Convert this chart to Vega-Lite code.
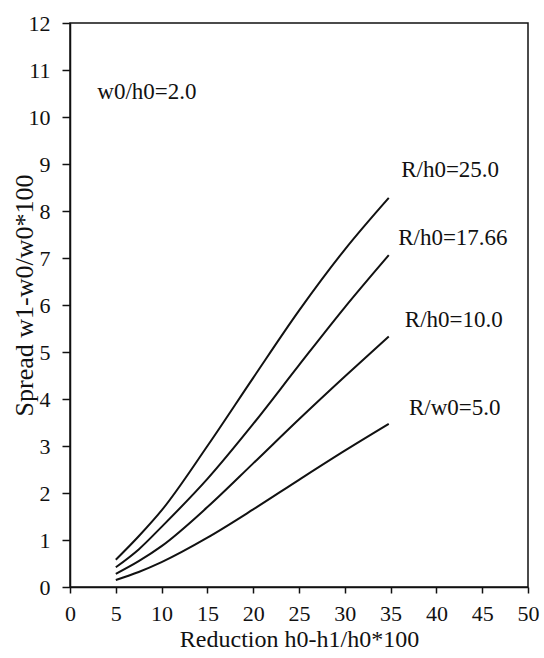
{
  "$schema": "https://vega.github.io/schema/vega-lite/v6.json",
  "autosize": "none",
  "width": 458,
  "height": 564,
  "padding": {"left": 70, "top": 23, "right": 16, "bottom": 71},
  "background": "white",
  "config": {
    "font": "Liberation Serif",
    "view": {"stroke": "#111", "strokeWidth": 1.5},
    "axis": {
      "grid": false,
      "domainColor": "#111",
      "domainWidth": 1.5,
      "tickColor": "#111",
      "tickWidth": 1.5,
      "labelColor": "#111",
      "titleColor": "#111",
      "labelFont": "Liberation Serif",
      "titleFont": "Liberation Serif",
      "labelFontSize": 22,
      "titleFontSize": 24,
      "titleFontWeight": "normal"
    }
  },
  "datasets": {
    "curves": [
      {"series": "R/h0=25.0", "reduction": 5, "spread": 0.58},
      {"series": "R/h0=25.0", "reduction": 7.5, "spread": 1.08},
      {"series": "R/h0=25.0", "reduction": 10, "spread": 1.63},
      {"series": "R/h0=25.0", "reduction": 15, "spread": 3.0},
      {"series": "R/h0=25.0", "reduction": 20, "spread": 4.45},
      {"series": "R/h0=25.0", "reduction": 25, "spread": 5.88},
      {"series": "R/h0=25.0", "reduction": 30, "spread": 7.18},
      {"series": "R/h0=25.0", "reduction": 34.8, "spread": 8.28},
      {"series": "R/h0=17.66", "reduction": 5, "spread": 0.42},
      {"series": "R/h0=17.66", "reduction": 7.5, "spread": 0.8},
      {"series": "R/h0=17.66", "reduction": 10, "spread": 1.28},
      {"series": "R/h0=17.66", "reduction": 15, "spread": 2.3},
      {"series": "R/h0=17.66", "reduction": 20, "spread": 3.47},
      {"series": "R/h0=17.66", "reduction": 25, "spread": 4.72},
      {"series": "R/h0=17.66", "reduction": 30, "spread": 5.95},
      {"series": "R/h0=17.66", "reduction": 34.8, "spread": 7.06},
      {"series": "R/h0=10.0", "reduction": 5, "spread": 0.28},
      {"series": "R/h0=10.0", "reduction": 7.5, "spread": 0.55},
      {"series": "R/h0=10.0", "reduction": 10, "spread": 0.87},
      {"series": "R/h0=10.0", "reduction": 15, "spread": 1.7},
      {"series": "R/h0=10.0", "reduction": 20, "spread": 2.63},
      {"series": "R/h0=10.0", "reduction": 25, "spread": 3.57},
      {"series": "R/h0=10.0", "reduction": 30, "spread": 4.48},
      {"series": "R/h0=10.0", "reduction": 34.8, "spread": 5.33},
      {"series": "R/w0=5.0", "reduction": 5, "spread": 0.15},
      {"series": "R/w0=5.0", "reduction": 7.5, "spread": 0.32},
      {"series": "R/w0=5.0", "reduction": 10, "spread": 0.53},
      {"series": "R/w0=5.0", "reduction": 15, "spread": 1.05},
      {"series": "R/w0=5.0", "reduction": 20, "spread": 1.65},
      {"series": "R/w0=5.0", "reduction": 25, "spread": 2.28},
      {"series": "R/w0=5.0", "reduction": 30, "spread": 2.9},
      {"series": "R/w0=5.0", "reduction": 34.8, "spread": 3.47}
    ],
    "labels": [
      {"text": "R/h0=25.0", "x": 41.5, "y": 8.87},
      {"text": "R/h0=17.66", "x": 41.8, "y": 7.43},
      {"text": "R/h0=10.0", "x": 41.9, "y": 5.68},
      {"text": "R/w0=5.0", "x": 42.0, "y": 3.81},
      {"text": "w0/h0=2.0", "x": 8.4, "y": 10.53}
    ]
  },
  "layer": [
    {
      "data": {"name": "curves"},
      "mark": {"type": "line", "interpolate": "monotone", "color": "#111", "strokeWidth": 2},
      "encoding": {
        "x": {
          "field": "reduction", "type": "quantitative",
          "scale": {"domain": [0, 50], "nice": false, "zero": false},
          "axis": {
            "title": "Reduction h0-h1/h0*100",
            "values": [0, 5, 10, 15, 20, 25, 30, 35, 40, 45, 50],
            "labelFont": "Liberation Serif",
            "labelFontSize": 22,
            "titleFont": "Liberation Serif",
            "titleFontSize": 24,
            "tickSize": 6,
            "labelPadding": 10,
            "titlePadding": 3,
            "labelFlush": false
          }
        },
        "y": {
          "field": "spread", "type": "quantitative",
          "scale": {"domain": [0, 12], "nice": false},
          "axis": {
            "title": "Spread w1-w0/w0*100",
            "values": [0, 1, 2, 3, 4, 5, 6, 7, 8, 9, 10, 11, 12],
            "labelFont": "Liberation Serif",
            "labelFontSize": 22,
            "titleFont": "Liberation Serif",
            "tickSize": 8,
            "labelPadding": 12,
            "labelFlush": false,
            "titleFontSize": 26,
            "titleX": -46,
            "titleY": 272,
            "titleAngle": -90,
            "titleBaseline": "middle",
            "titleAlign": "center"
          }
        },
        "detail": {"field": "series", "type": "nominal"}
      }
    },
    {
      "data": {"name": "labels"},
      "mark": {"type": "text", "font": "Liberation Serif", "fontSize": 23, "color": "#111", "align": "center", "baseline": "middle"},
      "encoding": {
        "x": {"field": "x", "type": "quantitative"},
        "y": {"field": "y", "type": "quantitative"},
        "text": {"field": "text", "type": "nominal"}
      }
    }
  ]
}
